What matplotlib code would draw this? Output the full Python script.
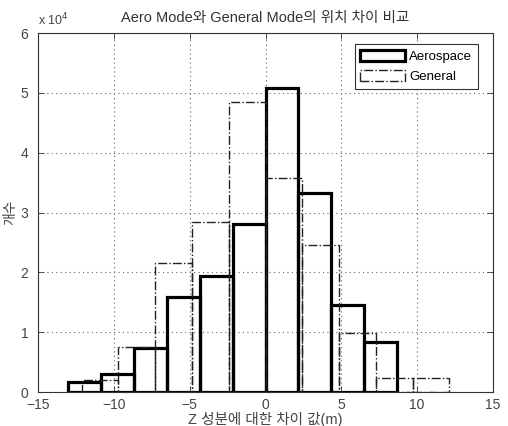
import matplotlib
matplotlib.use("Agg")
import matplotlib.pyplot as plt
from matplotlib.patches import Patch
from matplotlib.ticker import FuncFormatter
import numpy as np

plt.rcParams['font.family'] = ['Liberation Sans', 'Noto Sans CJK KR', 'DejaVu Sans']
plt.rcParams['font.size'] = 10

# ----------------------------- data -----------------------------
AERO_EDGES = [-13.0, -10.83, -8.67, -6.5, -4.33, -2.17, 0.0, 2.17, 4.33, 6.5, 8.67]
AERO_COUNTS = [1700, 3000, 7400, 15800, 19400, 28100, 50800, 33200, 14600, 8400]
GEN_EDGES = [-12.1, -9.7, -7.27, -4.85, -2.42, 0.0, 2.42, 4.85, 7.27, 9.7, 12.1]
GEN_COUNTS = [2000, 7600, 21600, 28400, 48400, 35700, 24600, 9800, 2300, 2300]
X_TICKS = [-15, -10, -5, 0, 5, 10, 15]
Y_TICKS = [0, 10000, 20000, 30000, 40000, 50000, 60000]

TITLE = "Aero Mode와 General Mode의 위치 차이 비교"
XLABEL = "Z 성분에 대한 차이 값(m)"
YLABEL = "개수"

fig = plt.figure(figsize=(5.08, 4.26), dpi=100)
ax = fig.add_axes([0.0748, 0.0798, 0.8957, 0.8427])

# Aerospace: thick solid outlines
ax.bar(AERO_EDGES[:-1], AERO_COUNTS, width=np.diff(AERO_EDGES), align="edge",
       fill=False, edgecolor="black", linewidth=2.3, zorder=3)
# General: thin dash-dot outlines
ax.bar(GEN_EDGES[:-1], GEN_COUNTS, width=np.diff(GEN_EDGES), align="edge",
       fill=False, edgecolor="#222222", linewidth=1.0, linestyle="-.", zorder=4)

ax.set_xlim(-15, 15)
ax.set_ylim(0, 60000)
ax.set_xticks(X_TICKS)
ax.set_yticks(Y_TICKS)
ax.yaxis.set_major_formatter(FuncFormatter(lambda v, p: f"{v / 1e4:g}"))
ax.tick_params(direction="in", top=True, right=True, length=4, width=0.6,
               colors="#333333", labelcolor="#444444")
ax.tick_params(axis="x", labelsize=10, pad=4)
ax.tick_params(axis="y", labelsize=10, pad=7)
ax.grid(True, ls=(0, (1, 3)), color="#666666", lw=0.8)
for s in ax.spines.values():
    s.set_linewidth(0.8)
    s.set_color("#333333")

ax.text(0.0, 1.012, r"x 10$^4$", transform=ax.transAxes, fontsize=9,
        color="#444444", ha="left", va="bottom")
ax.set_title(TITLE, fontsize=10.5, color="#333333", pad=8)
ax.set_xlabel(XLABEL, fontsize=10.5, color="#444444", labelpad=0)
ax.set_ylabel(YLABEL, fontsize=10, color="#444444", labelpad=2)

handles = [Patch(facecolor="white", edgecolor="black", linewidth=2.3),
           Patch(facecolor="white", edgecolor="#222222", linewidth=1.0, linestyle="-.")]
leg = ax.legend(handles, ["Aerospace", "General"], loc="upper right",
                bbox_to_anchor=(0.982, 0.988), fancybox=False, framealpha=1,
                edgecolor="#333333", fontsize=9.5, handlelength=3.4, handleheight=0.9,
                handletextpad=0.3, borderpad=0.45, labelspacing=0.55)
leg.get_frame().set_linewidth(0.8)

fig.savefig("out.png", dpi=100)
